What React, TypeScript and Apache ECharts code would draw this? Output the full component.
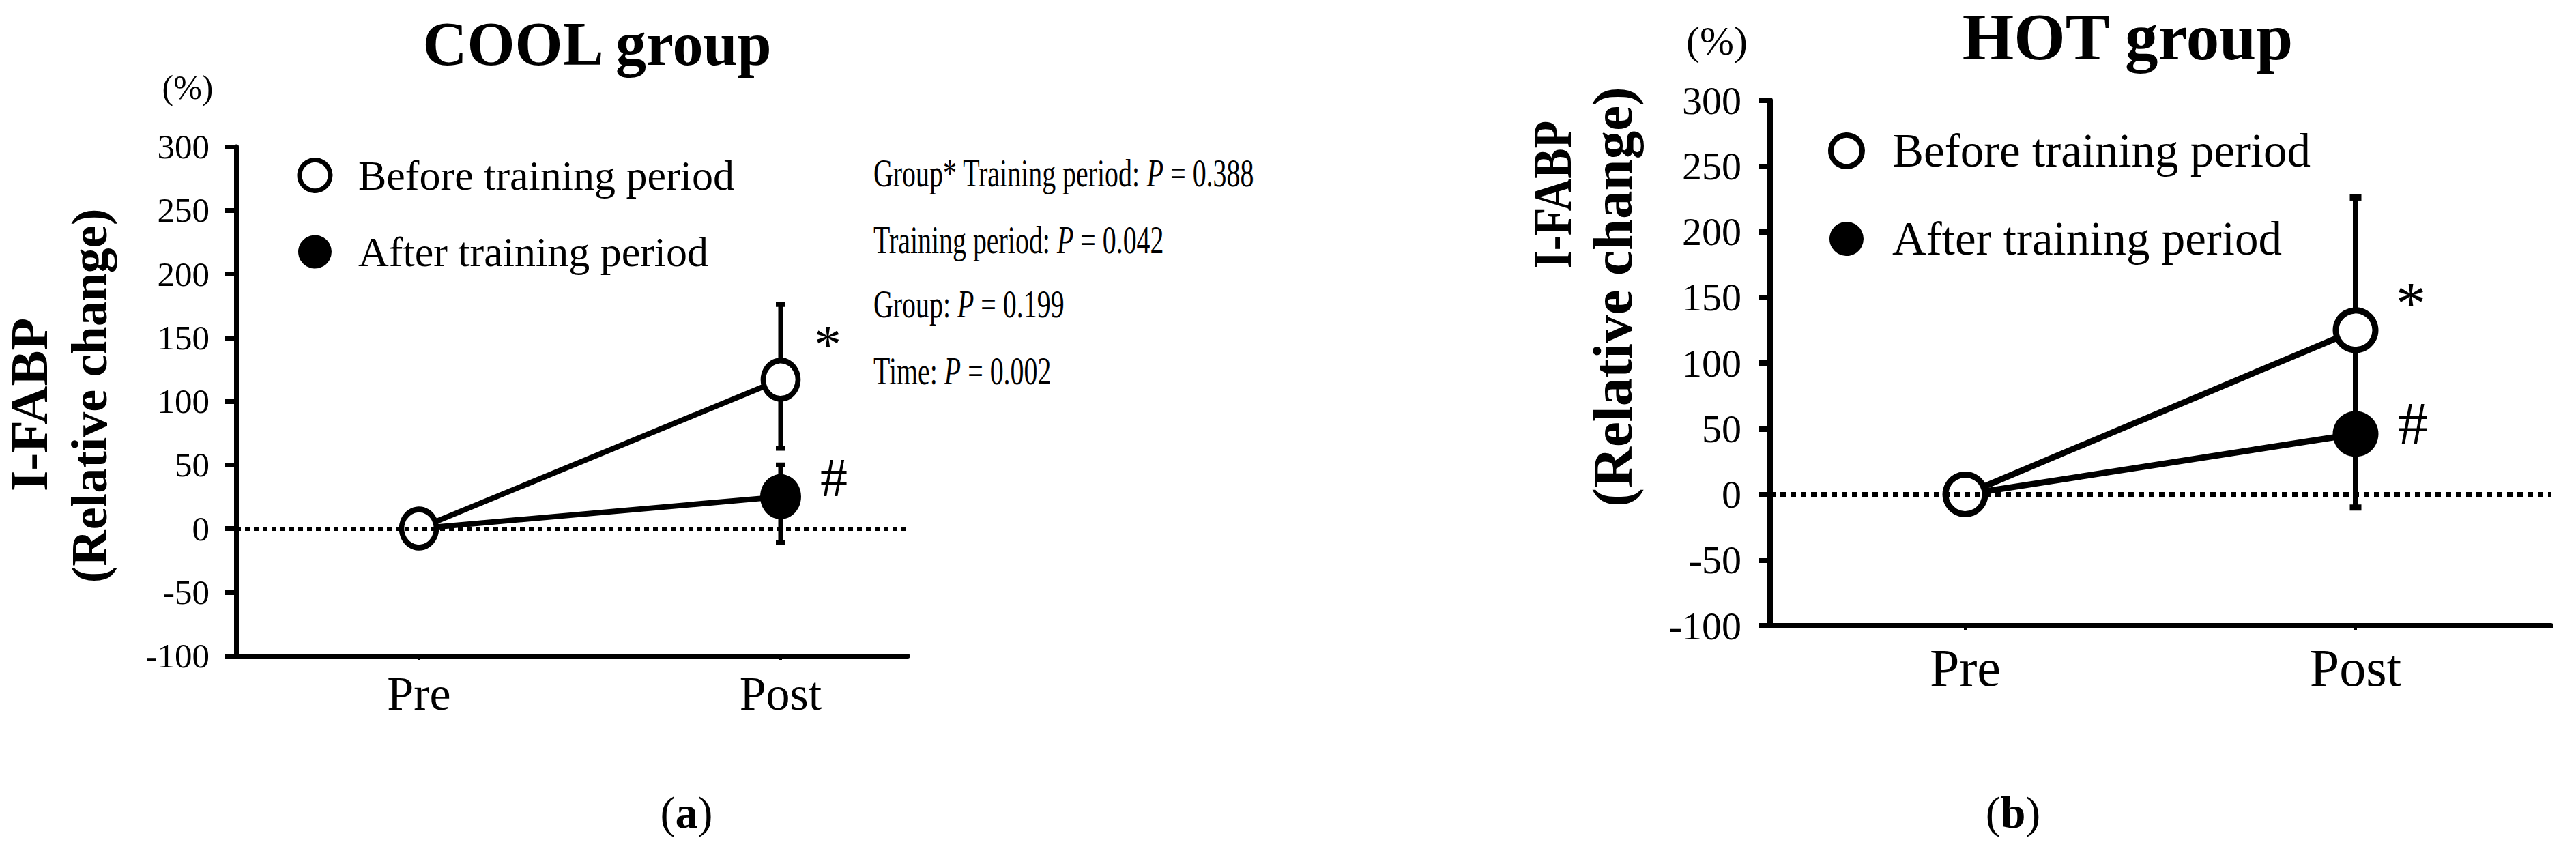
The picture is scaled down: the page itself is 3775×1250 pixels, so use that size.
import React, { useEffect, useRef } from 'react';
import * as echarts from 'echarts';

const FONT = "'Liberation Serif', 'Times New Roman', Times, serif";

// ---- data ----
const categories = ['Pre', 'Post'];
const categoryPos = [0, 1];
const legendNames = ['Before training period', 'After training period'];
const panelTitles = ['COOL group', 'HOT group'];
const panelLetters = ['a', 'b'];

const yMin = -100;
const yMax = 300;
const yInterval = 50;

// COOL group (relative change, %)
const coolBefore = [0, 117];
const coolAfter = [0, 25];
// [category position, low, high]
const coolBeforeErr = [[1, 63, 176]];
const coolAfterErr = [[1, -11, 50]];

// HOT group
const hotBefore = [0, 125];
const hotAfter = [0, 46];
const hotBeforeErr = [[1, 46, 226]];
const hotAfterErr = [[1, -10, 125]];

// significance marks at Post
const beforeMark = '*';
const afterMark = '#';

// statistics (COOL panel)
const statLabels = ['Group* Training period: ', 'Training period: ', 'Group: ', 'Time: '];
const statValues = ['0.388', '0.042', '0.199', '0.002'];

// ---- panel styling ----
const panels = [
  {
    before: coolBefore, after: coolAfter, beforeErr: coolBeforeErr, afterErr: coolAfterErr,
    grid: { left: 346, top: 215, width: 984, height: 746 },
    xMin: -0.5057, xMax: 1.351,
    tickFont: 51, tickMargin: 39, tickLen: 16, catFont: 70, catMargin: 20, axisW: 7, lw: 8,
    openSize: [51, 56], openBorder: 8, filledSize: [60, 66], capHalf: 7, capW: 7,
    dash: [7, 6], dotW: 6, annFont: 80, starOffset: [69, -51], hashOffset: [78, -28],
    legend: { left: 435.5, top: 226, icon: 45, gap: 50, font: 62, pad: 36, border: 7 },
    title: { x: 875, y: 64, size: 90 },
    pct: { x: 275, y: 128, size: 50 },
    yname1: { x: 42, y: 593, size: 78, scale: 1 },
    yname2: { x: 131, y: 580, size: 74 },
    letter: { x: 1006, y: 1190, size: 66 },
  },
  {
    before: hotBefore, after: hotAfter, beforeErr: hotBeforeErr, afterErr: hotAfterErr,
    grid: { left: 2594, top: 147, width: 1144, height: 770 },
    xMin: -0.5, xMax: 1.5,
    tickFont: 58, tickMargin: 42, tickLen: 17, catFont: 78, catMargin: 22, axisW: 8, lw: 9,
    openSize: [58, 58], openBorder: 9, filledSize: [67, 67], capHalf: 8.5, capW: 9,
    dash: [8, 7], dotW: 7, annFont: 88, starOffset: [81, -39], hashOffset: [84, -15],
    legend: { left: 2679, top: 186.5, icon: 46, gap: 60, font: 69, pad: 39, border: 8 },
    title: { x: 3118, y: 54, size: 97 },
    pct: { x: 2516, y: 60, size: 60 },
    yname1: { x: 2275, y: 285, size: 80, scale: 0.83 },
    yname2: { x: 2363, y: 435, size: 83 },
    letter: { x: 2950, y: 1190, size: 66 },
  },
];

function errRender(capHalf: number, lw: number, capW: number) {
  return (params: any, api: any) => {
    const x = api.value(0);
    const lo = api.coord([x, api.value(1)]);
    const hi = api.coord([x, api.value(2)]);
    return {
      type: 'group',
      children: [
        { type: 'line', shape: { x1: lo[0], y1: lo[1], x2: hi[0], y2: hi[1] }, style: { stroke: '#000', lineWidth: lw } },
        { type: 'line', shape: { x1: hi[0] - capHalf, y1: hi[1], x2: hi[0] + capHalf, y2: hi[1] }, style: { stroke: '#000', lineWidth: capW } },
        { type: 'line', shape: { x1: lo[0] - capHalf, y1: lo[1], x2: lo[0] + capHalf, y2: lo[1] }, style: { stroke: '#000', lineWidth: capW } },
      ],
    };
  };
}

function buildOption() {
  const grid: any[] = [];
  const xAxis: any[] = [];
  const yAxis: any[] = [];
  const series: any[] = [];
  const legend: any[] = [];
  const graphic: any[] = [];

  panels.forEach((p, i) => {
    grid.push({ ...p.grid, containLabel: false, outerBoundsMode: 'none' });
    xAxis.push({
      gridIndex: i, type: 'value', min: p.xMin, max: p.xMax,
      axisLine: { onZero: false, lineStyle: { color: '#000', width: p.axisW } },
      axisTick: { show: true, customValues: categoryPos, length: 6, lineStyle: { color: '#000', width: 4 } },
      axisLabel: {
        customValues: categoryPos,
        formatter: (v: any) => categories[Math.round(Number(v))] ?? '',
        fontSize: p.catFont, margin: p.catMargin, color: '#000', fontFamily: FONT,
      },
      splitLine: { show: false },
    });
    yAxis.push({
      gridIndex: i, type: 'value', min: yMin, max: yMax, interval: yInterval,
      axisLine: { show: true, onZero: false, lineStyle: { color: '#000', width: p.axisW } },
      axisTick: { show: true, length: p.tickLen, lineStyle: { color: '#000', width: p.axisW } },
      axisLabel: { fontSize: p.tickFont, margin: p.tickMargin, color: '#000', fontFamily: FONT },
      splitLine: { show: false },
    });

    // zero reference (dotted)
    series.push({
      type: 'line', xAxisIndex: i, yAxisIndex: i, data: [], z: 1, silent: true,
      markLine: {
        silent: true, symbol: ['none', 'none'], label: { show: false },
        lineStyle: { color: '#000', width: p.dotW, type: p.dash },
        emphasis: { disabled: true },
        data: [{ yAxis: 0 }],
      },
    });
    // error bars
    series.push({
      type: 'custom', xAxisIndex: i, yAxisIndex: i, z: 2, silent: true,
      data: p.beforeErr, encode: { x: 0, y: [1, 2] },
      renderItem: errRender(p.capHalf, p.axisW, p.capW),
    });
    series.push({
      type: 'custom', xAxisIndex: i, yAxisIndex: i, z: 2, silent: true,
      data: p.afterErr, encode: { x: 0, y: [1, 2] },
      renderItem: errRender(p.capHalf, p.axisW, p.capW),
    });
    // after training (filled)
    series.push({
      name: legendNames[1], type: 'line', xAxisIndex: i, yAxisIndex: i, z: 3,
      data: p.after.map((v, k) => (k === 0 ? { value: [categoryPos[k], v], symbolSize: 40 } : [categoryPos[k], v])),
      symbol: 'circle', symbolSize: p.filledSize, showAllSymbol: true,
      itemStyle: { color: '#000', borderWidth: 0 },
      lineStyle: { color: '#000', width: p.lw },
      label: {
        show: true, position: 'inside', offset: p.hashOffset,
        formatter: (d: any) => (d.dataIndex === 1 ? afterMark : ''),
        fontSize: p.annFont, fontFamily: FONT, color: '#000',
      },
      emphasis: { disabled: true },
    });
    // before training (open)
    series.push({
      name: legendNames[0], type: 'line', xAxisIndex: i, yAxisIndex: i, z: 4,
      data: p.before.map((v, k) => [categoryPos[k], v]),
      symbol: 'circle', symbolSize: p.openSize, showAllSymbol: true,
      itemStyle: { color: '#fff', borderColor: '#000', borderWidth: p.openBorder },
      lineStyle: { color: '#000', width: p.lw },
      label: {
        show: true, position: 'inside', offset: p.starOffset,
        formatter: (d: any) => (d.dataIndex === 1 ? beforeMark : ''),
        fontSize: p.annFont, fontFamily: FONT, color: '#000',
      },
      emphasis: { disabled: true },
    });

    legend.push({
      orient: 'vertical', left: p.legend.left, top: p.legend.top,
      itemWidth: p.legend.icon, itemHeight: p.legend.icon, itemGap: p.legend.gap,
      selectedMode: false, padding: 0,
      textStyle: { fontSize: p.legend.font, fontFamily: FONT, color: '#000', padding: [0, 0, 0, p.legend.pad] },
      data: [
        { name: legendNames[0], icon: 'circle', itemStyle: { color: '#fff', borderColor: '#000', borderWidth: p.legend.border } },
        { name: legendNames[1], icon: 'circle', itemStyle: { color: '#000', borderColor: '#000', borderWidth: 4 } },
      ],
    });

    graphic.push({
      type: 'text', x: p.title.x, y: p.title.y, silent: true,
      style: { text: panelTitles[i], fontSize: p.title.size, lineHeight: p.title.size, fontWeight: 'bold', fontFamily: FONT, fill: '#000', align: 'center', verticalAlign: 'middle' },
    });
    graphic.push({
      type: 'text', x: p.pct.x, y: p.pct.y, silent: true,
      style: { text: '(%)', fontSize: p.pct.size, fontFamily: FONT, fill: '#000', align: 'center', verticalAlign: 'middle' },
    });
    graphic.push({
      type: 'text', x: p.yname1.x, y: p.yname1.y, rotation: Math.PI / 2, scaleX: p.yname1.scale, scaleY: 1, silent: true,
      style: { text: 'I-FABP', fontSize: p.yname1.size, lineHeight: 60, fontWeight: 'bold', fontFamily: FONT, fill: '#000', align: 'center', verticalAlign: 'middle' },
    });
    graphic.push({
      type: 'text', x: p.yname2.x, y: p.yname2.y, rotation: Math.PI / 2, silent: true,
      style: { text: '(Relative change)', fontSize: p.yname2.size, lineHeight: p.yname2.size, fontWeight: 'bold', fontFamily: FONT, fill: '#000', align: 'center', verticalAlign: 'middle' },
    });
    graphic.push({
      type: 'text', x: p.letter.x, y: p.letter.y, silent: true,
      style: {
        text: '{n|(}{b|' + panelLetters[i] + '}{n|)}', align: 'center', verticalAlign: 'middle',
        rich: {
          n: { fontSize: p.letter.size, fontFamily: FONT, fill: '#000' },
          b: { fontSize: p.letter.size, fontFamily: FONT, fontWeight: 'bold', fill: '#000' },
        },
      },
    });
  });

  // statistics block (condensed serif text)
  const statBaselines = [273, 371, 465, 563];
  const statSize = 57;
  statLabels.forEach((lab, k) => {
    graphic.push({
      type: 'text', x: 1280, y: statBaselines[k] - 0.335 * statSize, scaleX: 0.7, scaleY: 1, silent: true,
      style: {
        text: '{n|' + lab + '}{i|P}{n| = ' + statValues[k] + '}',
        align: 'left', verticalAlign: 'middle',
        rich: {
          n: { fontSize: statSize, fontFamily: FONT, fill: '#000' },
          i: { fontSize: statSize, fontFamily: FONT, fontStyle: 'italic', fill: '#000' },
        },
      },
    });
  });

  return {
    animation: false,
    backgroundColor: '#fff',
    textStyle: { fontFamily: FONT, color: '#000' },
    grid, xAxis, yAxis, series, legend, graphic,
  };
}

export default function App() {
  const ref = useRef<HTMLDivElement>(null);
  useEffect(() => {
    if (!ref.current) return;
    const chart = echarts.init(ref.current, null, { renderer: 'svg', width: 3775, height: 1250 });
    chart.setOption(buildOption() as any);
    return () => chart.dispose();
  }, []);
  return (
    <div
      ref={ref}
      style={{ position: 'absolute', left: 0, top: 0, width: 3775, height: 1250, background: '#fff' }}
    />
  );
}
